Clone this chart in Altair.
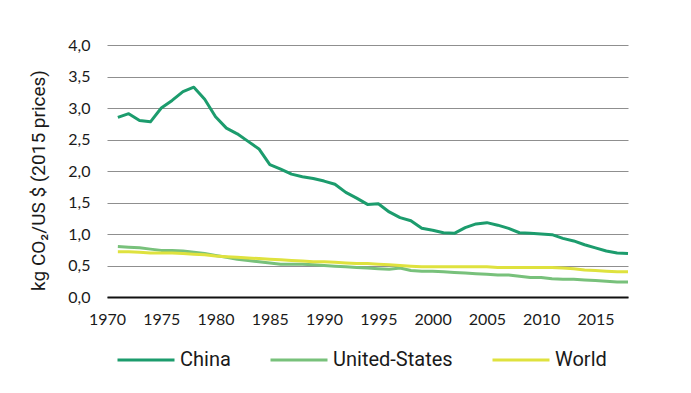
import altair as alt
import pandas as pd

years = list(range(1971, 2019))
china = [2.85, 2.91, 2.80, 2.78, 3.00, 3.12, 3.26, 3.33, 3.14, 2.86,
         2.68, 2.59, 2.47, 2.35, 2.10, 2.03, 1.95, 1.91, 1.88, 1.84,
         1.79, 1.66, 1.57, 1.47, 1.48, 1.35, 1.26, 1.21, 1.09, 1.06,
         1.02, 1.01, 1.10, 1.16, 1.18, 1.14, 1.09, 1.02, 1.01, 1.00,
         0.99, 0.93, 0.89, 0.83, 0.78, 0.73, 0.70, 0.69]
united_states = [0.80, 0.79, 0.78, 0.76, 0.74, 0.74, 0.73, 0.71, 0.69, 0.66,
                 0.63, 0.60, 0.58, 0.56, 0.54, 0.52, 0.52, 0.52, 0.51, 0.50,
                 0.49, 0.48, 0.47, 0.46, 0.45, 0.44, 0.46, 0.42, 0.41, 0.41,
                 0.40, 0.39, 0.38, 0.37, 0.36, 0.35, 0.35, 0.33, 0.31, 0.31,
                 0.29, 0.28, 0.28, 0.27, 0.26, 0.25, 0.24, 0.24]
world = [0.72, 0.72, 0.71, 0.70, 0.70, 0.70, 0.69, 0.68, 0.67, 0.65,
         0.64, 0.63, 0.62, 0.61, 0.60, 0.59, 0.58, 0.57, 0.56, 0.56,
         0.55, 0.54, 0.53, 0.53, 0.52, 0.51, 0.50, 0.49, 0.48, 0.48,
         0.48, 0.48, 0.48, 0.48, 0.48, 0.47, 0.47, 0.47, 0.47, 0.47,
         0.47, 0.46, 0.45, 0.43, 0.42, 0.41, 0.40, 0.40]

series_names = ["China", "United-States", "World"]
series_colors = ["#1c9c6d", "#78c17b", "#dfe23e"]
x_ticks = [1970, 1975, 1980, 1985, 1990, 1995, 2000, 2005, 2010, 2015]
y_ticks = [0, 0.5, 1, 1.5, 2, 2.5, 3, 3.5, 4]

rows = []
for name, vals in zip(series_names, [china, united_states, world]):
    for yr, v in zip(years, vals):
        rows.append({"year": yr, "value": v, "series": name})
df = pd.DataFrame(rows)

chart = alt.Chart(df).mark_line(strokeWidth=3, strokeJoin="round").encode(
    x=alt.X("year:Q",
            scale=alt.Scale(domain=[1970, 2018], nice=False, zero=False),
            axis=alt.Axis(values=x_ticks, format="d", title=None, grid=False,
                          ticks=False, domain=True, domainColor="#111111",
                          domainWidth=2, labelFlush=False, labelOverlap=False,
                          labelPadding=14, labelFont="Lato", labelFontSize=16,
                          labelColor="#1a1a1a")),
    y=alt.Y("value:Q",
            scale=alt.Scale(domain=[0, 4], nice=False),
            axis=alt.Axis(values=y_ticks, title="kg CO₂/US $ (2015 prices)",
                          labelExpr="replace(format(datum.value, '.1f'), '.', ',')",
                          grid=True, gridColor="#8f8f8f", gridWidth=1,
                          ticks=False, domain=False, labelPadding=17,
                          labelFont="Lato", labelFontSize=16, labelColor="#1a1a1a",
                          titleFont="Roboto", titleFontSize=19, titleFontWeight="normal",
                          titleColor="#1a1a1a", titlePadding=19, titleY=135)),
    color=alt.Color("series:N",
                    scale=alt.Scale(domain=series_names, range=series_colors),
                    legend=alt.Legend(title=None, orient="none", legendX=9, legendY=285,
                                      direction="horizontal", symbolType="stroke",
                                      symbolSize=3249, symbolStrokeWidth=3,
                                      labelFont="Roboto", labelFontSize=20,
                                      labelColor="#1a1a1a", labelOffset=4,
                                      columnPadding=33, padding=0)),
    order=alt.Order("series:N", sort="descending"),
).properties(
    width=521, height=252,
    autosize=alt.AutoSizeParams(type="none"),
    padding={"left": 99, "top": 37, "right": 40, "bottom": 84},
).configure_view(stroke=None)

chart.save("out.html", embed_options={"renderer": "svg", "actions": False})
